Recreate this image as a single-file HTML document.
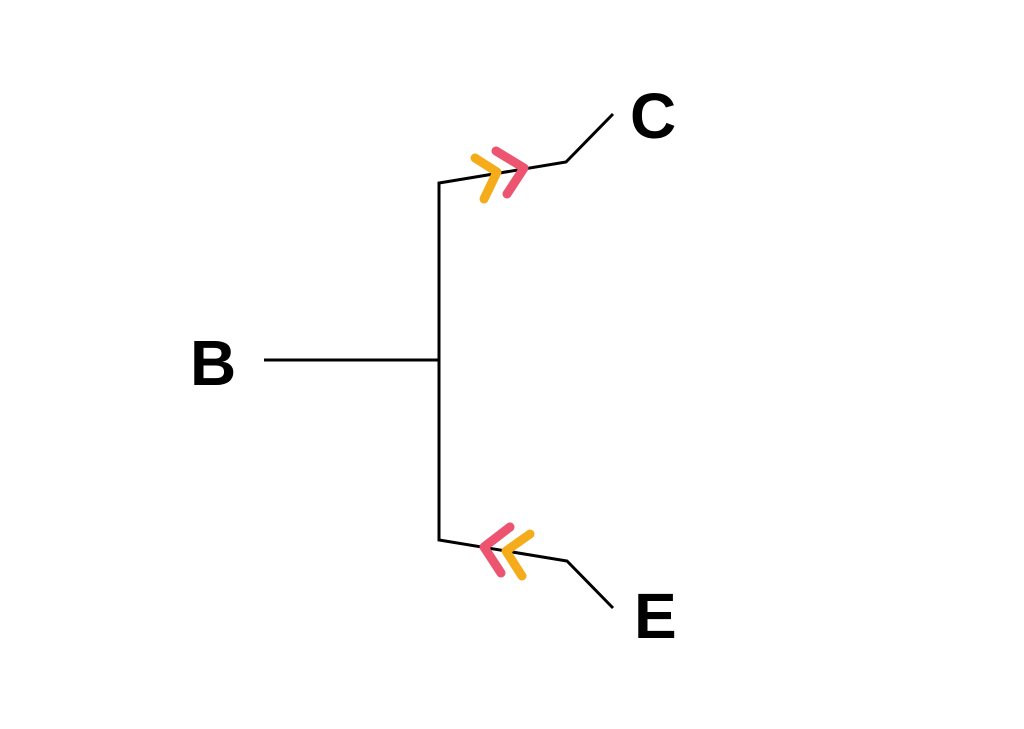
<!DOCTYPE html>
<html><head><style>body{margin:0;background:#fff}</style></head><body>
<svg width="1024" height="724" xmlns="http://www.w3.org/2000/svg">
<rect width="1024" height="724" fill="#fff"/>
<g stroke="#000" stroke-width="3" fill="none">
<line x1="264" y1="360" x2="439" y2="360"/>
<polyline points="613,114 566,162 439,183 439,540 567,561 613,608"/>
</g>
<g fill="none" stroke-width="9" stroke-linecap="round" stroke-linejoin="round">
<polyline points="475,158 497,172 484,199" stroke="#F5AC1B"/>
<polyline points="496,151 524,168 507,194" stroke="#EC5470"/>
<polyline points="510,527 484,547 501,573" stroke="#EC5470"/>
<polyline points="530,534 506,551 522,576" stroke="#F5AC1B"/>
</g>
<g font-family="Liberation Sans, sans-serif" font-weight="bold" font-size="64" fill="#000">
<text x="190" y="385">B</text>
<text x="630" y="138">C</text>
<text x="634" y="638">E</text>
</g>
</svg>
</body></html>
